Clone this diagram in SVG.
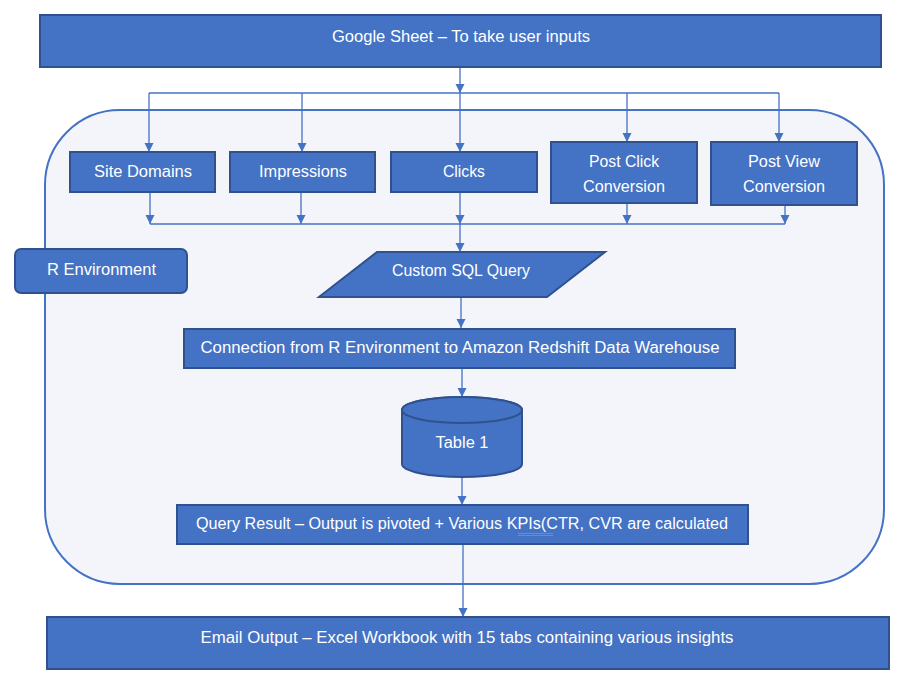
<svg xmlns="http://www.w3.org/2000/svg" width="910" height="682" viewBox="0 0 910 682">
  <style>
    .box { fill: #4472c4; stroke: #2f528f; stroke-width: 2; }
    .lbl { font-family: "Liberation Sans", Arial, sans-serif; font-size: 16px; fill: #ffffff; text-anchor: middle; }
    .conn { stroke: #4472c4; stroke-width: 1.3; fill: none; }
    .arr { stroke: #4472c4; stroke-width: 1.3; fill: none; marker-end: url(#ah); }
  </style>
  <defs>
    <marker id="ah" markerUnits="userSpaceOnUse" markerWidth="10" markerHeight="10" refX="9" refY="4.5" orient="auto">
      <path d="M0,0 L9,4.5 L0,9 Z" fill="#4472c4"/>
    </marker>
  </defs>
  <rect width="910" height="682" fill="#ffffff"/>

  <g id="container">
    <rect x="45" y="110" width="839" height="474" rx="75" ry="75" fill="#f3f5fb" stroke="#4472c4" stroke-width="2"/>
  </g>

  <g id="connectors">
    <line class="arr" x1="460" y1="67" x2="460" y2="93"/>
    <line class="conn" x1="149" y1="93" x2="779" y2="93"/>
    <line class="arr" x1="149" y1="93" x2="149" y2="152"/>
    <line class="arr" x1="302" y1="93" x2="302" y2="152"/>
    <line class="arr" x1="460" y1="93" x2="460" y2="152"/>
    <line class="arr" x1="627" y1="93" x2="627" y2="142"/>
    <line class="arr" x1="779" y1="93" x2="779" y2="142"/>
    <line class="arr" x1="150" y1="193" x2="150" y2="224"/>
    <line class="arr" x1="301" y1="193" x2="301" y2="224"/>
    <line class="arr" x1="460" y1="193" x2="460" y2="224"/>
    <line class="arr" x1="627" y1="204" x2="627" y2="224"/>
    <line class="arr" x1="785" y1="206" x2="785" y2="224"/>
    <line class="conn" x1="150" y1="224" x2="785" y2="224"/>
    <line class="arr" x1="460" y1="224" x2="460" y2="252"/>
    <line class="arr" x1="461" y1="298" x2="461" y2="328"/>
    <line class="arr" x1="462" y1="369" x2="462" y2="397"/>
    <line class="arr" x1="462" y1="477" x2="462" y2="505"/>
    <line class="arr" x1="463" y1="545" x2="463" y2="617"/>
  </g>

  <g id="google-sheet">
    <rect class="box" x="40" y="15" width="841" height="52"/>
    <text class="lbl" x="461" y="42" textLength="258" lengthAdjust="spacingAndGlyphs">Google Sheet – To take user inputs</text>
  </g>

  <g id="site-domains">
    <rect class="box" x="70" y="152" width="145" height="40"/>
    <text class="lbl" x="143" y="177" textLength="98" lengthAdjust="spacingAndGlyphs">Site Domains</text>
  </g>
  <g id="impressions">
    <rect class="box" x="230" y="152" width="145" height="40"/>
    <text class="lbl" x="303" y="177" textLength="88" lengthAdjust="spacingAndGlyphs">Impressions</text>
  </g>
  <g id="clicks">
    <rect class="box" x="391" y="152" width="146" height="40"/>
    <text class="lbl" x="464" y="177" textLength="42" lengthAdjust="spacingAndGlyphs">Clicks</text>
  </g>
  <g id="post-click">
    <rect class="box" x="551" y="142" width="146" height="61"/>
    <text class="lbl" x="624" y="167" textLength="70" lengthAdjust="spacingAndGlyphs">Post Click</text>
    <text class="lbl" x="624" y="192" textLength="82" lengthAdjust="spacingAndGlyphs">Conversion</text>
  </g>
  <g id="post-view">
    <rect class="box" x="711" y="142" width="146" height="63"/>
    <text class="lbl" x="784" y="167" textLength="72" lengthAdjust="spacingAndGlyphs">Post View</text>
    <text class="lbl" x="784" y="192" textLength="82" lengthAdjust="spacingAndGlyphs">Conversion</text>
  </g>

  <g id="r-environment">
    <rect class="box" x="15" y="249" width="172" height="44" rx="6" ry="6"/>
    <text class="lbl" x="47" y="275" text-anchor="start" style="text-anchor:start" textLength="109" lengthAdjust="spacingAndGlyphs">R Environment</text>
  </g>

  <g id="custom-sql">
    <polygon class="box" points="377,252 605,252 547,297 319,297"/>
    <text class="lbl" x="461" y="276" textLength="138" lengthAdjust="spacingAndGlyphs">Custom SQL Query</text>
  </g>

  <g id="connection">
    <rect class="box" x="184" y="329" width="551" height="39"/>
    <text class="lbl" x="460" y="353" textLength="519" lengthAdjust="spacingAndGlyphs">Connection from R Environment to Amazon Redshift Data Warehouse</text>
  </g>

  <g id="table1">
    <path class="box" d="M402,410 L402,464 A60,13 0 0 0 522,464 L522,410 A60,13 0 0 0 402,410 Z"/>
    <ellipse class="box" cx="462" cy="410" rx="60" ry="13"/>
    <text class="lbl" x="462" y="448" textLength="53" lengthAdjust="spacingAndGlyphs">Table 1</text>
  </g>

  <g id="query-result">
    <rect class="box" x="177" y="505" width="571" height="39"/>
    <text class="lbl" x="462" y="529" textLength="532" lengthAdjust="spacingAndGlyphs">Query Result – Output is pivoted + Various KPIs(CTR, CVR are calculated</text>
    <line x1="518" y1="533.5" x2="553" y2="533.5" stroke="#5b8ee6" stroke-width="1"/>
    <line x1="518" y1="535.5" x2="553" y2="535.5" stroke="#5b8ee6" stroke-width="1"/>
  </g>

  <g id="email-output">
    <rect class="box" x="47" y="617" width="842" height="52"/>
    <text class="lbl" x="467" y="643" textLength="533" lengthAdjust="spacingAndGlyphs">Email Output – Excel Workbook with 15 tabs containing various insights</text>
  </g>
</svg>
